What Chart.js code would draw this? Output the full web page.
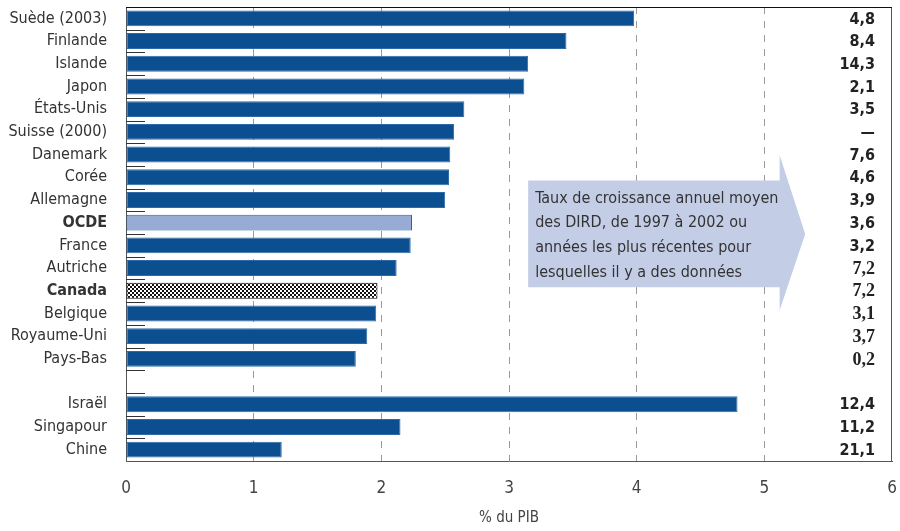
<!DOCTYPE html>
<html lang="fr">
<head>
<meta charset="utf-8">
<title>DIRD en % du PIB</title>
<script src="https://cdn.jsdelivr.net/npm/chart.js@4/dist/chart.umd.min.js"></script>
<style>
  html, body { margin: 0; padding: 0; background: #ffffff; }
  #wrap { width: 900px; height: 531px; position: relative; }
</style>
</head>
<body>
<div id="wrap"><canvas id="c" width="900" height="531"></canvas></div>
<script>
// Pays (une ligne vide sépare l'OCDE des économies non membres)
const pays = ['Suède (2003)', 'Finlande', 'Islande', 'Japon', 'États-Unis', 'Suisse (2000)',
  'Danemark', 'Corée', 'Allemagne', 'OCDE', 'France', 'Autriche', 'Canada', 'Belgique',
  'Royaume-Uni', 'Pays-Bas', '', 'Israël', 'Singapour', 'Chine'];

// DIRD en pourcentage du PIB
const dirdPib = [3.98, 3.45, 3.15, 3.12, 2.65, 2.57, 2.54, 2.53, 2.50, 2.24, 2.23, 2.12,
  1.97, 1.96, 1.89, 1.80, null, 4.79, 2.15, 1.22];

// Taux de croissance annuel moyen des DIRD (colonne de droite)
const croissance = ['4,8', '8,4', '14,3', '2,1', '3,5', '—', '7,6', '4,6', '3,9', '3,6', '3,2',
  '7,2', '7,2', '3,1', '3,7', '0,2', '', '12,4', '11,2', '21,1'];

// Graduations de l'axe horizontal
const graduations = [0, 1, 2, 3, 4, 5, 6];

const legendeFleche = ['Taux de croissance annuel moyen', 'des DIRD, de 1997 à 2002 ou',
  'années les plus récentes pour', 'lesquelles il y a des données'];

const NARROW = "'Liberation Sans Narrow', 'DejaVu Sans Condensed', 'Roboto Condensed', 'Liberation Sans', sans-serif";
const BLEU = '#0b4f90';

// Motif pointillé pour la barre du Canada
function motifPoints() {
  const p = document.createElement('canvas');
  p.width = 4; p.height = 4;
  const g = p.getContext('2d');
  g.fillStyle = '#ffffff'; g.fillRect(0, 0, 4, 4);
  g.fillStyle = '#111111';
  g.fillRect(0, 0, 2, 2);
  g.fillRect(2, 2, 2, 2);
  return g.createPattern(p, 'repeat');
}
const ctx = document.getElementById('c').getContext('2d');
const pointille = motifPoints();

const couleurs = pays.map(p => p === 'OCDE' ? '#97abd5' : (p === 'Canada' ? pointille : BLEU));
const bordures = pays.map(p => p === 'OCDE' ? '#2b5f9e' : (p === 'Canada' ? '#111111' : '#2f6aa8'));

// Pas de marge automatique autour des axes
function sansMarge(s) {
  s.paddingTop = 0; s.paddingBottom = 0; s.paddingLeft = 0; s.paddingRight = 0;
}

// Cadre, traits de séparation, flèche et colonne des taux
const decor = {
  id: 'decor',
  beforeDatasetsDraw(chart) {
    const { ctx, scales: { x, y } } = chart;
    // flèche
    const x0 = x.getPixelForValue(3.15), xr = x.getPixelForValue(5.12), tip = x.getPixelForValue(5.32);
    const yt = y.getPixelForValue(7.14), yb = y.getPixelForValue(11.85);
    const ht = y.getPixelForValue(6.03), hb = y.getPixelForValue(12.86);
    const ym = (yt + yb) / 2;
    ctx.save();
    ctx.fillStyle = '#c3cde6';
    ctx.beginPath();
    ctx.moveTo(x0, yt); ctx.lineTo(xr, yt); ctx.lineTo(xr, ht); ctx.lineTo(tip, ym);
    ctx.lineTo(xr, hb); ctx.lineTo(xr, yb); ctx.lineTo(x0, yb); ctx.closePath();
    ctx.fill();
    ctx.fillStyle = '#333333';
    ctx.font = "16px " + NARROW;
    ctx.textAlign = 'left';
    ctx.textBaseline = 'middle';
    legendeFleche.forEach((t, i) => {
      ctx.fillText(t, x0 + 7, y.getPixelForValue(7.93 + i * 1.1));
    });
    ctx.restore();
  },
  afterDatasetsDraw(chart) {
    const { ctx, chartArea: a, scales: { x, y } } = chart;
    ctx.save();
    // traits courts entre les lignes
    ctx.strokeStyle = '#333333';
    ctx.lineWidth = 1;
    for (let i = 0; i < pays.length - 1; i++) {
      const yy = Math.round((y.getPixelForValue(i) + y.getPixelForValue(i + 1)) / 2) + 0.5;
      ctx.beginPath(); ctx.moveTo(a.left, yy); ctx.lineTo(a.left + 19, yy); ctx.stroke();
    }
    // cadre
    ctx.strokeStyle = '#555555';
    ctx.beginPath();
    ctx.moveTo(a.right - 0.5, a.top); ctx.lineTo(a.right - 0.5, a.bottom);
    ctx.stroke();
    ctx.strokeStyle = '#111111';
    ctx.beginPath();
    ctx.moveTo(a.left, a.top + 0.5); ctx.lineTo(a.right, a.top + 0.5);
    ctx.stroke();
    // colonne des taux de croissance
    ctx.fillStyle = '#222222';
    ctx.textAlign = 'right';
    ctx.textBaseline = 'middle';
    croissance.forEach((t, i) => {
      const serif = i >= 11 && i <= 15;
      ctx.font = serif ? "bold 18px 'Liberation Serif', serif" : "bold 16px " + NARROW;
      ctx.fillText(t, a.right - 17, y.getPixelForValue(i) + 1);
    });
    ctx.restore();
  }
};

new Chart(ctx, {
  type: 'bar',
  data: {
    labels: pays,
    datasets: [{
      data: dirdPib,
      backgroundColor: couleurs,
      borderColor: bordures,
      borderWidth: 1,
      borderSkipped: false,
      barPercentage: 0.7,
      categoryPercentage: 1.0
    }]
  },
  options: {
    indexAxis: 'y',
    responsive: false,
    animation: false,
    events: [],
    layout: { padding: { top: 7, right: 8, left: 0, bottom: 0 } },
    plugins: { legend: { display: false }, tooltip: { enabled: false } },
    scales: {
      x: {
        min: 0, max: 6,
        afterBuildTicks(s) { s.ticks = graduations.map(v => ({ value: v })); },
        afterFit(s) { s.height = 70; sansMarge(s); },
        grid: {
          drawTicks: false,
          color: c => (c.tick && (c.tick.value === 0 || c.tick.value === 6)) ? 'rgba(0,0,0,0)' : '#9a9a9a',
          lineWidth: 1
        },
        border: { display: true, color: '#555555', width: 1, dash: [7, 7] },
        ticks: {
          padding: 17,
          color: '#444444',
          font: { size: 17, family: NARROW },
          callback: v => String(v)
        },
        title: {
          display: true,
          text: '% du PIB',
          color: '#444444',
          font: { size: 15, family: NARROW },
          padding: { top: 16 }
        }
      },
      y: {
        afterFit(s) { s.width = 126; sansMarge(s); },
        grid: { display: false, drawTicks: false },
        border: { display: true, color: '#555555', width: 1 },
        ticks: {
          padding: 19,
          color: '#333333',
          autoSkip: false,
          font: c => {
            const l = pays[c.index];
            const gras = l === 'OCDE' || l === 'Canada';
            return { size: 16, family: NARROW, weight: gras ? 'bold' : 'normal' };
          }
        }
      }
    }
  },
  plugins: [decor]
});
</script>
</body>
</html>
